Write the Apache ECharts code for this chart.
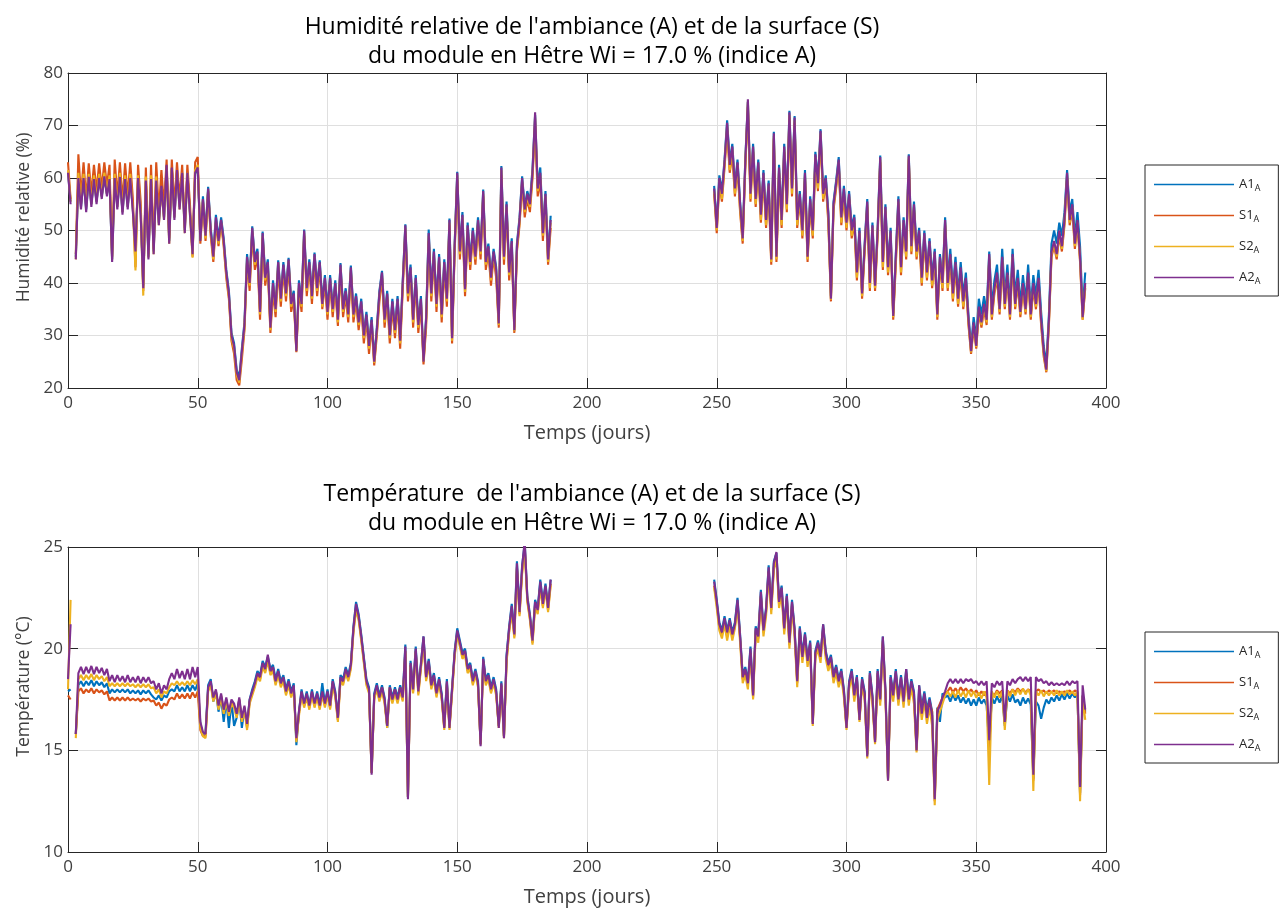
<!DOCTYPE html>
<html>
<head>
<meta charset="utf-8">
<script src="https://cdn.jsdelivr.net/npm/echarts@6/dist/echarts.min.js"></script>
<style>
  html, body { margin: 0; padding: 0; background: #fff; }
  #chart { width: 1279px; height: 908px; }
</style>
</head>
<body>
<div id="chart"></div>
<script>
// Sampling: one value per day, two measurement campaigns
const PART1_START = 0;    // days 0 .. 186
const PART2_START = 249;  // days 249 .. 392

const seriesNames = ['A1', 'S1', 'S2', 'A2'];
const seriesColors = ['#0072BD', '#D95319', '#EDB120', '#7E2F8E'];

const xTicks = { min: 0, max: 400, step: 50 };
const rhTicks = { min: 20, max: 80, step: 10 };
const tTicks = { min: 10, max: 25, step: 5 };

// ---------- Relative humidity (%) ----------
const rhA1_p1 = [
61,55.5,null,45,60,54.5,59.8,54,60,55,
59.6,55.5,59.8,56.5,60,57,59.6,44.5,59.8,54.5,
60,53.5,59.6,54.5,59.8,54,46.5,59.8,53.5,39.5,
59.3,45,59.6,46,59.3,51.5,58.3,52.5,62.3,48,
61.8,52.5,61.3,54.5,60.8,50,60.8,53.5,46,60.8,
61.8,48.5,56.5,49.5,58.3,50.5,45.5,53,48.5,52.5,
48.5,42.5,38.5,30.5,28.5,23.5,22,27.5,32.5,45.5,
40.5,50.8,44.5,46.5,35,49.8,41.5,44.5,32,40.5,
35.5,44.3,37.5,44,38.5,44.8,36.5,38.5,27.5,40.5,
36.5,50.2,39.5,44.5,38,45.8,39.5,44.3,36.5,41.5,
35,41.5,35.5,40.5,33.5,43.8,35.5,39,34.5,43.3,
34.5,38,33,37,30.5,34.5,28.5,33.5,25.5,31.5,
38.5,42.3,33.5,38.5,30.5,37,31.5,37.5,29.5,40.5,
51.2,38.5,43.5,33.5,41.5,32.5,37.5,25.5,33.5,50.2,
38.5,46.5,36.5,45.5,34.5,44.5,37.5,52.3,30,47.5,
61.2,46.5,53.5,39.3,51.5,44.5,50.5,45.5,52.5,46.5,
57.8,44.5,47.5,41.5,46.5,43,32.8,62.3,45.5,55.5,
42.5,48.5,31.5,47.5,52.5,60.3,54.5,57.5,55.5,61.8,
72,58.5,62,50,57.5,45,52.8];
const rhS1_p1 = [
63,56,null,45.5,64.5,56.5,63,56,62.8,57,
62.5,57.5,62.8,58,63,58.5,62.5,45,63.5,56.5,
63,55.5,62.8,56.5,63,56,43,62.5,55.5,38.5,
62,45.5,62.5,46.5,63,53.5,61.5,54.5,63.5,48.5,
63.5,54.5,63,56,62.5,50.5,62.5,55,45,63,
64,47.5,55.5,48,57.5,49,44,51.5,47,51.5,
47,41,37,29,26.5,21.5,20.5,25.5,31,44,
38.5,49.5,42.5,45,33,48.5,39.5,43,30.5,38.5,
33.5,43,35.5,42.5,36.5,43.5,34.5,37,26.8,39,
34.5,49,37.5,43,36,44.5,37.5,43,35,40,
33,40,33.5,39,31.8,42.5,33.5,37.5,32.5,42,
32.5,36.5,31,35.5,28.5,33,26.5,32,24.3,30,
36.5,41,31.5,37,28.5,35.5,29.5,36,27.5,39,
49.5,36.5,42,31.5,40,30.5,36,24.5,31.5,48,
36.5,45,34.5,44,32.5,43,35.5,51,28.5,46,
59.5,44.5,52,37.5,50,42.5,49,43.5,51,44.5,
56.5,42.5,46,39.5,45,41,31.5,60.5,43.5,54,
40.5,47,30.5,46,51,59,52.5,56,53.5,60,
70,56.5,59.5,48,55.5,43.5,50.5];
const rhS2_p1 = [
61.5,55.5,null,44.5,61,55,60.8,54.5,60.8,55,
60.5,55.5,60.8,56.5,61,57,60.5,44.5,60.8,54.5,
61,53.5,60.5,54.5,60.8,54,42.4,60.5,53.5,37.6,
60.3,44.8,60.5,45.5,60.3,51,58,52,61.5,47.5,
61.8,52.5,61.5,54,61,49.5,61,53,44.8,61.5,
62.5,48,55.8,48.5,57.8,49.5,44.5,52,47.5,51.5,
47.5,41.5,37.5,29.5,27.5,22.5,21,26.5,31.5,44.5,
39.5,50,43.5,45.5,34,49,40.5,43.5,31,39.5,
34.5,43.8,36.5,43,37.5,44.2,35.5,37.5,27,39.5,
35.5,49.5,38.5,43.5,37,45,38.5,43.5,35.5,40.5,
34,40.5,34.5,39.5,32.5,43,34.5,38,33.5,42.5,
33.5,37,32,36,29.5,33.5,27.5,32.5,24.8,30.5,
37.5,41.5,32.5,37.5,29.5,36,30.5,36.5,28.5,39.5,
50.5,37.5,42.5,32.5,40.5,31.5,36.5,25,32.5,49,
37.5,45.5,35.5,44.5,33.5,43.5,36.5,51.5,29,46.5,
60.5,45.5,52.5,38.3,50.5,43.5,49.5,44.5,51.5,45.5,
57,43.5,46.5,40.5,45.5,42,32,61.5,44.5,54.5,
41.5,47.5,30.8,46.5,51.5,59.5,53.5,56.5,54.5,60.5,
71.5,57.5,60.5,49,56.5,44,51.5];
const rhA2_p1 = [
61,55,null,44.5,60,54,60,53.5,60.2,54.5,
59.8,55,60,56,60.3,56.5,59.8,44,60,54,
60.2,53,59.8,54,60,53.5,46,60,53,39,
59.5,44.5,59.8,45.5,59.5,51,58.5,52,62.5,47.5,
62,52,61.5,54,61,49.5,61,53,45.5,61,
62,48,56,49,58,50,45,52.5,48,52,
48,42,38,30,28,23,21.5,27,32,45,
40,50.5,44,46,34.5,49.5,41,44,31.5,40,
35,44,37,43.5,38,44.5,36,38,27,40,
36,50,39,44,37.5,45.5,39,44,36,41,
34.5,41,35,40,33,43.5,35,38.5,34,43,
34,37.5,32.5,36.5,30,34,28,33,25,31,
38,42,33,38,30,36.5,31,37,29,40,
51,38,43,33,41,32,37,25,33,49.5,
38,46,36,45,34,44,37,52,29.5,47,
61,46,53,38.8,51,44,50,45,52,46,
57.5,44,47,41,46,42.5,32.3,62,45,55,
42,48,31,47,52,60,54,57,55,61,
72.5,58,61,49.5,57,44.5,52];

const rhA1_p2 = [
58.5,51,60.5,57.5,63.5,71,63,66.5,58.5,63.5,
55.5,49,63.5,74.5,57.5,66.5,56.5,63.5,53.5,61.5,
52.5,59.5,45,68.8,45.5,62.5,52.5,66.5,55.5,72.8,
58.5,71.8,52.5,57.5,50.5,61.5,45.5,56.5,50.5,65,
59.5,69.3,57.5,60.5,53.5,37.5,55.5,59.5,64,53,
58.5,52,57.5,50.5,53,42.5,50.5,38.5,47.5,56,
40.5,51.5,40,50.5,64.3,44.5,55,43.5,50.5,34.2,
45.5,56.5,43.5,52.5,46.5,64.5,47.5,55.5,46.5,50.5,
41.5,50,42.5,48.5,41,46.5,34.5,45.5,40.5,52.5,
41,46.5,39,45,38,44,37.5,42,34,28,
33.5,29.5,37,34,37.5,34.5,46,35.5,40.5,43.5,
36.5,46.5,37.5,43.5,35.5,46.5,37.5,42.5,36,41.5,
36.5,43.5,35.5,41.5,37.5,42.5,34.5,28,24.5,34,
47.5,50,47.5,51.5,49,53.5,61.5,53.5,56,49,
53.5,47,35,42];
const rhS1_p2 = [
57,49.5,59,55.5,62,69,61,64.5,56.5,62,
53.5,47.5,62,73.5,55.5,65,54.5,62,51.5,60,
50.5,58,43.5,67.5,44,61,50.5,65,53.5,71.5,
56.5,70.5,50.5,56,48.5,60,44,55,48.5,63.5,
57.5,68,55.5,59,51.5,36.5,54,58,62.5,51,
56.5,50,56,48.5,51.5,40.5,49,37,46,54.5,
38.5,50,38.5,49,63,42.5,53.5,41.5,49,33,
43.5,55,41.5,51,44.5,63.5,45.5,54,44.5,49,
39.5,48.5,40.5,47,39,45,33,44,38.5,51,
38.5,44.5,36.5,43,35.5,42,35,40,32,26.5,
31.5,27.5,34.5,31.5,35,32,44.5,33,38,41,
34,44,35,41,33,44.5,35,40,33.5,39,
34,41,33,39,35,40,32,26,23,32,
45,47,44.5,49,46,51,60,51,54,46.5,
51,44,33,39];
const rhS2_p2 = [
57.5,50,59.5,56,62.5,70,61.5,65.5,57,62.5,
54,48,62.5,74.5,56,65.5,55,62.5,52,60.5,
51,58.5,44,68,44.5,61.5,51,65.5,54,72,
57,71,51,56.5,49,60.5,44.5,55.5,49,64,
58,68.5,56,59.5,52,36.8,54.5,58.5,63,51.5,
57,50.5,56.5,49,52,41,49.5,37.5,46.5,55,
39,50.5,39,49.5,63.5,43,54,42,49.5,33.5,
44,55.5,42,51.5,45,64,46,54.5,45,49.5,
40,49,41,47.5,39.5,45.5,33.5,44.5,39,51.5,
39,45,37,43.5,36,42.5,35.5,40.5,32.5,26.8,
32,27.8,35,32,35.5,32.5,45,33.5,38.5,41.5,
34.5,44.5,35.5,41.5,33.5,45,35.5,40.5,34,39.5,
34.5,41.5,33.5,39.5,35.5,40.5,32.5,26.5,23.2,32.5,
45.5,47.5,45,49.5,46.5,51.5,60.5,51.5,54.5,47,
51.5,44.5,33,39.5];
const rhA2_p2 = [
58,50.5,60,57,63,70.5,62.5,66,58,63,
55,48.5,63,75,57,66,56,63,53,61,
52,59,44.5,68.5,45,62,52,66,55,72.5,
58,71.5,52,57,50,61,45,56,50,64.5,
59,69,57,60,53,37,55,59,63.5,52.5,
58,51.5,57,50,52.5,42,50,38,47,55.5,
40,51,39.5,50,64,44,54.5,43,50,33.7,
45,56,43,52,46,64.3,47,55,46,50,
41,49.5,42,48,40.5,46,34,45,40,52,
40,45.5,38,44,37,43,36.5,41,33,27,
32.5,28,35.5,32.5,36,33,45.5,34,39,42,
35,45,36,42,34,45.5,36,41,34.5,40,
35,42,34,40,36,41,33,27,23.5,33,
46,48,45.5,50,47,52,61,52,55,47.5,
52,45,33.5,40];

// ---------- Temperature (°C) ----------
const tA1_p1 = [
17.9,18,null,15.8,18.2,18.4,18.15,18.4,18.2,18.45,
18.15,18.4,18.2,18.35,18.1,18.3,17.8,18,17.85,18,
17.85,18,17.85,18,17.8,17.95,17.8,17.95,17.75,17.95,
17.8,17.95,17.75,17.6,17.5,17.7,17.45,17.7,17.6,17.9,
18,17.9,18.2,17.9,18.1,17.9,18.2,17.9,18.2,17.95,
18.3,16.3,15.8,15.9,18.2,18.5,17.4,17.9,16.9,17.6,
16.4,17.5,16.1,17.4,16.2,16.6,17.5,16.1,17.1,16.2,
17.5,18,18.4,18.9,18.7,19.4,19.1,19.6,19,19.2,
18.5,19,18.4,18.7,18,18.5,17.9,18.3,15.25,16.9,
18,17.3,17.9,17.2,18,17.3,17.9,17.2,18.3,17.3,
18,17.2,18.5,17.9,16.6,18.7,18.5,19.1,18.7,19.3,
21.1,22.3,21.7,20.7,19.6,18.5,18.1,13.9,17.8,18.3,
17.7,18.2,17.6,16.1,18.2,17.6,18.1,17.6,18.2,17.7,
20.2,12.7,19.4,18.1,20.1,18,19.3,20.6,18.7,19.5,
18.3,18.8,17.9,18.6,17.8,16.2,18.5,16.2,18.1,19.9,
21,20.4,19.8,20,19.1,19.3,18.5,19,18.4,15.3,
19.6,18.5,18.8,18.1,18.6,18,16.2,18.4,15.7,19.7,
21.1,22.2,20.8,24.3,21.9,24.1,25.2,22.6,21.7,20.5,
22.4,22,23.4,22.3,23.2,22.1,23.4];
const tS1_p1 = [
17.7,17.5,null,15.8,17.9,18.05,17.8,18,17.85,18.05,
17.8,18,17.85,17.95,17.75,17.9,17.45,17.6,17.45,17.6,
17.45,17.6,17.45,17.6,17.45,17.55,17.45,17.55,17.4,17.55,
17.45,17.55,17.4,17.45,17.2,17.35,17.05,17.3,17.2,17.5,
17.6,17.5,17.8,17.55,17.75,17.55,17.8,17.55,17.85,17.6,
17.9,16,15.7,15.7,18,18.3,17.5,17.9,17.1,17.7,
16.9,17.5,16.8,17.4,17.2,16.7,17.5,16.5,17.1,16.1,
17.4,17.8,18.2,18.7,18.5,19.2,18.9,19.5,18.8,19,
18.3,18.8,18.2,18.5,17.8,18.3,17.7,18.1,15.5,16.8,
17.8,17.2,17.7,17.1,17.8,17.2,17.7,17.1,17.8,17.2,
17.8,17.1,18.3,17.7,16.5,18.5,18.3,18.9,18.5,19.1,
20.9,22,21.5,20.5,19.4,18.3,17.9,13.9,17.6,18.1,
17.5,18.1,17.4,16.2,18.1,17.4,18,17.4,18.1,17.5,
19.9,12.7,19.2,17.9,19.9,17.8,19.1,20.4,18.5,19.3,
18.1,18.6,17.7,18.4,17.6,16.1,18.3,16.1,17.9,19.7,
20.8,20.2,19.6,19.8,18.9,19.1,18.3,18.8,18.2,15.3,
19.4,18.3,18.6,17.9,18.4,17.8,16.2,18.2,15.7,19.4,
20.9,21.9,20.6,24,21.7,23.8,25,22.4,21.5,20.3,
22.2,21.8,23.1,22.1,23,21.9,23.2];
const tS2_p1 = [
18,22.4,null,15.6,18.5,18.7,18.45,18.7,18.5,18.75,
18.45,18.7,18.5,18.65,18.4,18.6,18.15,18.3,18.15,18.3,
18.15,18.3,18.15,18.3,18.15,18.25,18.1,18.25,18.1,18.25,
18.1,18.25,18.05,18.1,17.8,18,17.6,17.9,17.8,18.1,
18.3,18.2,18.4,18.2,18.35,18.2,18.4,18.2,18.45,18.25,
18.5,16.1,15.7,15.6,17.9,18.2,17.4,17.8,17,17.6,
16.8,17.4,16.7,17.3,17.1,16.6,17.4,16.4,17,16,
17.3,17.7,18.1,18.6,18.4,19.1,18.8,19.4,18.7,18.9,
18.2,18.7,18.1,18.4,17.7,18.2,17.6,18,15.4,16.7,
17.7,17.1,17.6,17,17.7,17.1,17.6,17,17.7,17.1,
17.7,17,18.2,17.6,16.4,18.4,18.2,18.8,18.4,19,
20.8,21.9,21.4,20.4,19.3,18.2,17.8,13.9,17.5,18,
17.4,17.9,17.3,16.1,17.9,17.3,17.8,17.3,17.9,17.4,
19.8,12.7,19.1,17.8,19.8,17.7,19,20.3,18.4,19.2,
18,18.5,17.6,18.3,17.5,16,18.2,16,17.8,19.6,
20.7,20.1,19.5,19.7,18.8,19,18.2,18.7,18.1,15.3,
19.3,18.2,18.5,17.8,18.3,17.7,16.1,18.1,15.6,19.3,
20.8,21.8,20.5,23.9,21.6,23.7,24.9,22.3,21.4,20.2,
22.1,21.7,23,22,22.9,21.8,23.1];
const tA2_p1 = [
18.5,21.2,null,15.8,18.8,19.1,18.75,19.1,18.8,19.15,
18.75,19.1,18.8,19.05,18.7,19,18.4,18.7,18.35,18.7,
18.4,18.65,18.35,18.7,18.35,18.6,18.35,18.65,18.3,18.6,
18.35,18.6,18.3,18.4,18,18.3,17.8,18.2,18,18.5,
18.8,18.5,19,18.55,18.9,18.5,19,18.5,19.1,18.6,
19.1,16.4,15.9,15.8,18.1,18.4,17.6,18,17.2,17.8,
17,17.6,16.9,17.5,17.3,16.8,17.6,16.6,17.2,16.3,
17.5,17.9,18.3,18.8,18.6,19.3,19,19.7,18.9,19.1,
18.4,18.9,18.3,18.6,17.9,18.4,17.8,18.2,15.6,16.9,
17.9,17.3,17.8,17.2,17.9,17.3,17.8,17.2,17.9,17.3,
17.9,17.2,18.4,17.8,16.6,18.6,18.4,19,18.6,19.2,
21,22.2,21.6,20.6,19.5,18.4,18,13.8,17.7,18.2,
17.6,18.1,17.5,16.2,18.1,17.5,18,17.5,18.1,17.6,
20.1,12.6,19.3,18,20,17.9,19.2,20.6,18.6,19.4,
18.2,18.7,17.8,18.5,17.7,16.1,18.4,16.1,18,19.8,
20.9,20.3,19.7,19.9,19,19.2,18.4,18.9,18.3,15.2,
19.5,18.4,18.7,18,18.5,17.9,16.1,18.3,15.6,19.6,
21,22.1,20.7,24.2,21.8,24,25.3,22.5,21.6,20.4,
22.3,21.9,23.3,22.2,23.1,22,23.4];

const tA1_p2 = [
23.4,22.4,21.3,20.9,21.6,20.9,21.5,20.8,21.3,22.5,
20.7,18.7,19.1,18.4,20.1,17.8,21.1,20.7,22.9,21,
22,24.1,22.1,24.3,24.7,22.4,23.1,21.1,22.7,20.4,
22.4,21,18.5,21.1,19.7,20.8,19.5,20.4,16.4,19.9,
20.4,19.7,21.2,19.9,19.3,19.7,18.7,19.2,18.5,19,
18,16.2,18.4,19,17.8,18.7,16.6,18.6,17.9,14.8,
18.9,17.7,15.5,19,17.6,20.6,18,13.6,18.7,17.8,
19,17.6,18.7,17.5,19,17.6,18.5,17.9,15.1,18.2,
17.1,17.9,17,17.6,16.9,12.7,17.1,16.4,17.8,17.6,
17.7,17.4,17.75,17.45,17.7,17.35,17.6,17.3,17.55,17.2,
17.5,17.2,17.6,17.3,17.5,17.2,15.2,17.6,17.3,17.65,
17.35,17.7,16.2,17.7,17.4,17.75,17.35,17.5,17.2,17.6,
17.3,17.55,17.25,13.6,17.4,17.2,16.55,17.1,17.5,17.3,
17.6,17.4,17.7,17.45,17.75,17.5,17.8,17.55,17.8,17.6,
17.8,12.9,17.7,16.9];
const tS1_p2 = [
23.1,22.2,21,20.7,21.4,20.6,21.3,20.6,21.1,22.2,
20.5,18.5,18.9,18.2,19.8,17.6,20.9,20.5,22.6,20.8,
21.8,23.8,21.9,24,24.5,22.2,22.9,20.9,22.5,20.2,
22.2,20.8,18.3,20.9,19.5,20.6,19.3,20.2,16.3,19.7,
20.2,19.5,21,19.7,19.1,19.5,18.5,19,18.3,18.8,
17.8,16.1,18.2,18.8,17.6,18.5,16.5,18.4,17.7,14.8,
18.7,17.5,15.4,18.8,17.4,20.4,17.8,13.6,18.5,17.6,
18.8,17.4,18.5,17.3,18.8,17.4,18.3,17.6,15,18,
17,17.6,16.9,17.4,16.9,12.5,17,17.3,17.6,17.8,
17.9,18.1,17.85,18.05,17.85,18.1,17.9,18.05,17.85,18,
17.8,17.95,17.7,17.9,17.7,17.9,15,17.8,17.7,17.95,
17.8,17.95,16.3,17.95,17.8,18,17.85,18.05,17.9,18,
17.85,18,17.9,13.5,17.9,18,17.85,17.95,17.8,17.95,
17.85,17.95,17.8,17.9,17.8,17.9,17.85,17.95,17.8,17.95,
17.85,12.8,17.7,16.8];
const tS2_p2 = [
23,22,20.9,20.5,21.2,20.4,21.1,20.4,21,22.1,
20.3,18.3,18.7,18,19.7,17.5,20.7,20.3,22.5,20.6,
21.6,23.7,21.7,23.9,24.4,22,22.7,20.7,22.3,20,
22,20.6,18.1,20.7,19.3,20.4,19.1,20,16.2,19.5,
20,19.3,20.9,19.5,18.9,19.3,18.3,18.8,18.1,18.6,
17.6,16,18,18.6,17.4,18.3,16.4,18.2,17.5,14.6,
18.5,17.3,15.3,18.6,17.2,20.3,17.6,13.5,18.3,17.4,
18.6,17.2,18.3,17.1,18.6,17.2,18.1,17.3,14.9,17.7,
16.5,17.4,16.3,17.1,16.2,12.3,16.5,16.9,17.3,17.7,
17.9,17.65,17.9,17.6,17.95,17.65,17.9,17.6,17.95,17.65,
17.9,17.6,17.85,17.55,17.9,17.6,13.3,17.9,17.6,17.9,
17.6,17.9,16,17.95,17.65,18,17.7,18,17.75,18.05,
17.75,18,17.7,13,17.9,17.7,17.95,17.65,17.9,17.7,
17.9,17.7,17.95,17.7,17.9,17.7,17.95,17.75,17.9,17.7,
17.9,12.5,17.6,16.5];
const tA2_p2 = [
23.3,22.3,21.2,20.8,21.5,20.8,21.4,20.7,21.2,22.4,
20.6,18.6,19,18.3,20,17.7,21,20.6,22.8,20.9,
21.9,24,22,24.2,24.75,22.3,23,21,22.6,20.3,
22.3,20.9,18.4,21,19.6,20.7,19.4,20.3,16.3,19.8,
20.3,19.6,21.2,19.8,19.2,19.6,18.6,19.1,18.4,18.9,
17.9,16.1,18.3,18.9,17.7,18.6,16.5,18.5,17.8,14.7,
18.8,17.6,15.4,18.9,17.5,20.6,17.9,13.5,18.6,17.7,
18.9,17.5,18.6,17.4,19,17.5,18.4,17.8,15,18.2,
16.8,17.8,16.6,17.5,16.7,12.6,16.9,17.2,17.6,17.9,
18.3,18.5,18.3,18.5,18.3,18.5,18.3,18.5,18.4,18.5,
18.3,18.4,18.2,18.4,18.2,18.4,15.5,18.3,18.1,18.4,
18.2,18.4,16.4,18.4,18.2,18.5,18.3,18.5,18.6,18.4,
18.6,18.4,18.6,13.8,18.6,18.4,18.5,18.3,18.4,18.2,
18.35,18.2,18.3,18.2,18.3,18.2,18.4,18.2,18.4,18.3,
18.4,13.2,18.2,17];

// ---------- chart construction ----------
const FONT = '"Open Sans", "Noto Sans", sans-serif';
const AXIS_COLOR = '#262626';
const LABEL_COLOR = '#404040';
const GRID_COLOR = '#dfdfdf';

// join both campaigns, with a break between them
function toPoints(p1, p2) {
  const pts = p1.map((v, i) => [PART1_START + i, v == null ? '-' : v]);
  pts.push([PART1_START + p1.length, '-']);
  p2.forEach((v, i) => pts.push([PART2_START + i, v == null ? '-' : v]));
  return pts;
}

function xAxes(gridIndex) {
  const base = {
    gridIndex, type: 'value', min: xTicks.min, max: xTicks.max, interval: xTicks.step,
    axisLine: { show: true, onZero: false, lineStyle: { color: AXIS_COLOR, width: 1 } },
    axisTick: { show: true, inside: true, length: 10, lineStyle: { color: AXIS_COLOR } },
  };
  return [
    Object.assign({}, base, {
      position: 'bottom',
      splitLine: { show: true, lineStyle: { color: GRID_COLOR, width: 1 } },
      axisLabel: { fontSize: 17, color: LABEL_COLOR, fontFamily: FONT, margin: 7 },
      name: 'Temps (jours)', nameLocation: 'middle', nameGap: 35,
      nameTextStyle: { fontSize: 20, color: LABEL_COLOR, fontFamily: FONT }
    }),
    Object.assign({}, base, {
      position: 'top', splitLine: { show: false }, axisLabel: { show: false }
    })
  ];
}

function yAxes(gridIndex, ticks, name) {
  const base = {
    gridIndex, type: 'value', min: ticks.min, max: ticks.max, interval: ticks.step,
    axisLine: { show: true, onZero: false, lineStyle: { color: AXIS_COLOR, width: 1 } },
    axisTick: { show: true, inside: true, length: 10, lineStyle: { color: AXIS_COLOR } },
  };
  return [
    Object.assign({}, base, {
      position: 'left',
      splitLine: { show: true, lineStyle: { color: GRID_COLOR, width: 1 } },
      axisLabel: { fontSize: 17, color: LABEL_COLOR, fontFamily: FONT, margin: 5 },
      name, nameLocation: 'middle', nameGap: 34, nameRotate: 90,
      nameTextStyle: { fontSize: 17.5, color: LABEL_COLOR, fontFamily: FONT, padding: [0, 0, 0, 26] }
    }),
    Object.assign({}, base, {
      position: 'right', splitLine: { show: false }, axisLabel: { show: false }
    })
  ];
}

function lineSeries(name, color, pts, axisBase) {
  return {
    name, type: 'line', data: pts,
    xAxisIndex: axisBase, yAxisIndex: axisBase,
    showSymbol: false, symbol: 'none', connectNulls: false, clip: true,
    lineStyle: { color, width: 2.1 }, itemStyle: { color },
    silent: true, animation: false
  };
}

function legend(top) {
  return {
    orient: 'vertical', left: 1145, top,
    data: seriesNames,
    icon: 'rect', itemWidth: 80, itemHeight: 1.5,
    borderColor: '#262626', borderWidth: 1, backgroundColor: '#fff',
    padding: [11, 18, 10, 9], itemGap: 14,
    selectedMode: false,
    formatter: n => '{n|' + n + '}{s|A}',
    textStyle: {
      fontFamily: FONT, color: '#262626',
      rich: {
        n: { fontSize: 13, fontFamily: FONT, color: '#262626', lineHeight: 16 },
        s: { fontSize: 9, fontFamily: FONT, color: '#262626', lineHeight: 16, padding: [8, 0, 0, 0] }
      }
    }
  };
}

const rhData = [toPoints(rhA1_p1, rhA1_p2), toPoints(rhS1_p1, rhS1_p2), toPoints(rhS2_p1, rhS2_p2), toPoints(rhA2_p1, rhA2_p2)];
const tData = [toPoints(tA1_p1, tA1_p2), toPoints(tS1_p1, tS1_p2), toPoints(tS2_p1, tS2_p2), toPoints(tA2_p1, tA2_p2)];

const series = [];
seriesNames.forEach((n, i) => series.push(lineSeries(n, seriesColors[i], rhData[i], 0)));
seriesNames.forEach((n, i) => series.push(lineSeries(n, seriesColors[i], tData[i], 2)));

const titleStyle = { fontSize: 23, fontWeight: 'normal', color: '#000', fontFamily: FONT, lineHeight: 29 };

const option = {
  backgroundColor: '#fff',
  animation: false,
  title: [
    { text: "Humidité relative de l'ambiance (A) et de la surface (S)\ndu module en Hêtre Wi = 17.0 % (indice A)",
      left: 587, top: 8, textAlign: 'center', textStyle: titleStyle },
    { text: "Température  de l'ambiance (A) et de la surface (S)\ndu module en Hêtre Wi = 17.0 % (indice A)",
      left: 587, top: 475, textAlign: 'center', textStyle: titleStyle }
  ],
  grid: [
    { left: 68, top: 73, width: 1038, height: 315 },
    { left: 68, top: 547, width: 1038, height: 306 }
  ],
  xAxis: [].concat(xAxes(0), xAxes(1)),
  yAxis: [].concat(yAxes(0, rhTicks, 'Humidité relative (%)'), yAxes(1, tTicks, 'Température (°C)')),
  legend: [legend(165), legend(632)],
  series
};

const chart = echarts.init(document.getElementById('chart'), null, { renderer: 'canvas' });
chart.setOption(option);
</script>
</body>
</html>
